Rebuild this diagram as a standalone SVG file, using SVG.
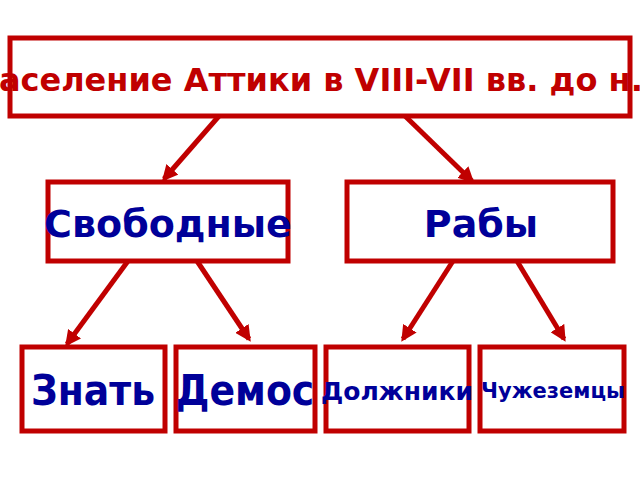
<svg xmlns="http://www.w3.org/2000/svg" width="640" height="480" viewBox="0 0 640 480">
<defs>
<style>
.box{fill:#fff;stroke:#c00000;stroke-width:5}
.t{font-family:"DejaVu Sans","Liberation Sans",sans-serif;font-weight:bold;text-anchor:middle}
.cn{font-family:"DejaVu Sans Condensed","DejaVu Sans","Liberation Sans",sans-serif;font-stretch:condensed}
.red{fill:#c00000}
.blue{fill:#000099}
.c{stroke:#c00000;stroke-width:5;fill:none;marker-end:url(#ah)}
</style>
<marker id="ah" viewBox="0 0 10 10" refX="8" refY="5" markerWidth="3.2" markerHeight="3.2" orient="auto" markerUnits="strokeWidth">
<path d="M0,0 L10,5 L0,10 Z" fill="#c00000"/>
</marker>
</defs>
<rect width="640" height="480" fill="#fff"/>
<g id="connectors">
<line class="c" x1="219" y1="116" x2="164" y2="179"/>
<line class="c" x1="405" y1="116" x2="472" y2="181"/>
<line class="c" x1="128" y1="261" x2="67" y2="344"/>
<line class="c" x1="197" y1="261" x2="249" y2="339"/>
<line class="c" x1="453" y1="261" x2="403" y2="339"/>
<line class="c" x1="517" y1="261" x2="564" y2="339"/>
</g>
<g id="n-title">
<rect class="box" x="10" y="38" width="620" height="78"/>
<text class="t red" x="323" y="91" font-size="32">Население Аттики в VIII-VII вв. до н.э.</text>
</g>
<g id="n-free">
<rect class="box" x="48" y="182" width="240" height="79"/>
<text class="t blue" x="168" y="237" font-size="38">Свободные</text>
</g>
<g id="n-slaves">
<rect class="box" x="347" y="182" width="266" height="79"/>
<text class="t blue" x="481" y="237" font-size="38">Рабы</text>
</g>
<g id="n-nobility">
<rect class="box" x="22" y="347" width="143" height="84"/>
<text class="t cn blue" x="93" y="405" font-size="42">Знать</text>
</g>
<g id="n-demos">
<rect class="box" x="176" y="347" width="139" height="84"/>
<text class="t cn blue" x="245" y="405" font-size="42">Демос</text>
</g>
<g id="n-debtors">
<rect class="box" x="326" y="347" width="143" height="84"/>
<text class="t blue" x="397" y="400" font-size="25">Должники</text>
</g>
<g id="n-foreigners">
<rect class="box" x="480" y="347" width="144" height="84"/>
<text class="t blue" x="553" y="398" font-size="21">Чужеземцы</text>
</g>
</svg>
